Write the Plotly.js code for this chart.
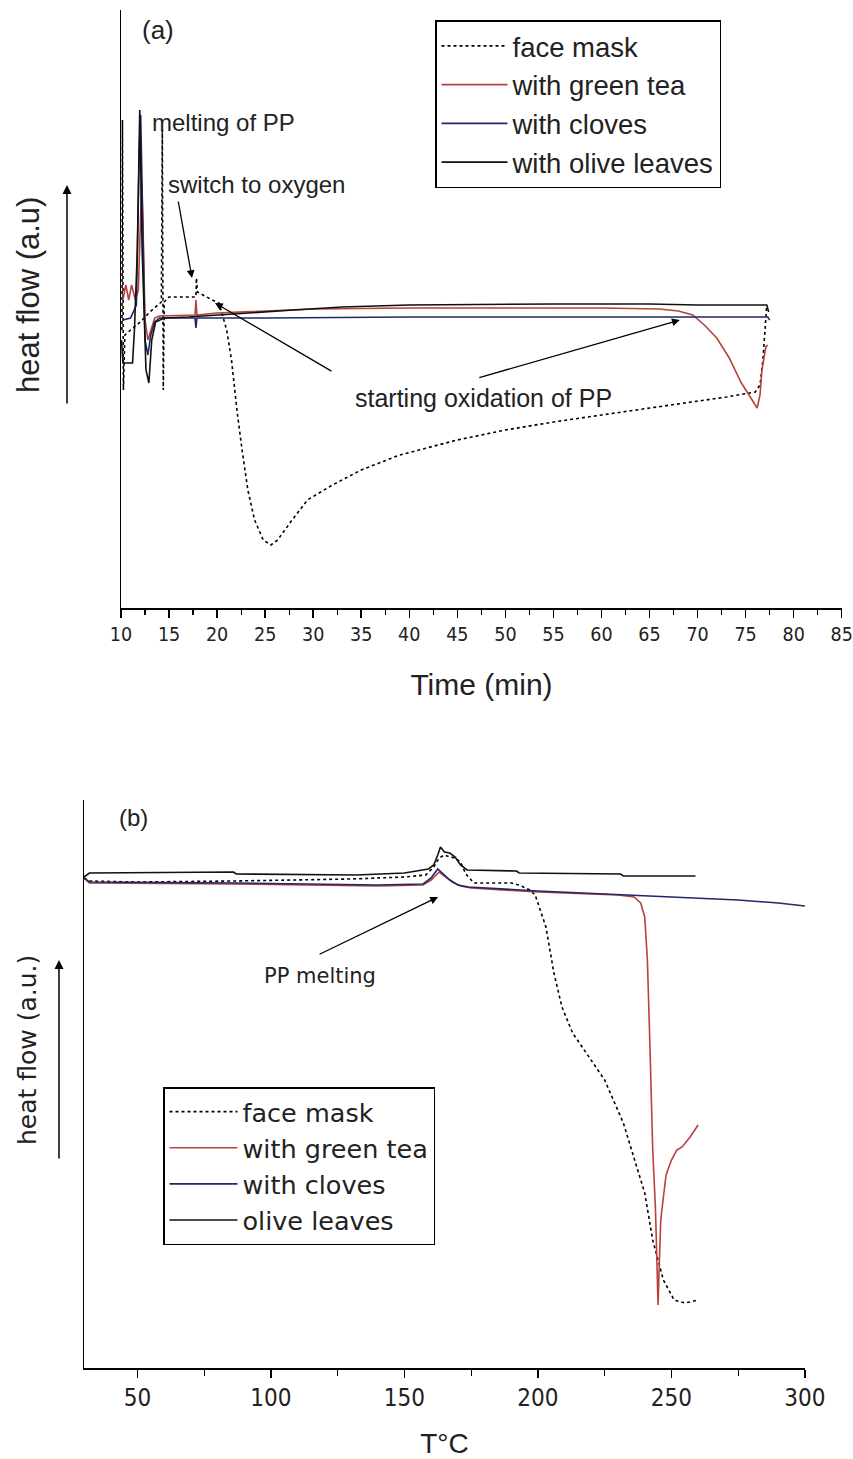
<!DOCTYPE html>
<html>
<head>
<meta charset="utf-8">
<script src="https://cdn.plot.ly/plotly-3.0.1.min.js"></script>
<style>html,body{margin:0;padding:0;background:#fff;}#chart{width:853px;height:1459px;}</style>
</head>
<body>
<div id="chart"></div>
<script>
// ---------- (a) isothermal DSC: heat flow vs time ----------
const seriesNames = ["face mask", "with green tea", "with cloves", "with olive leaves"];
const seriesNamesB = ["face mask", "with green tea", "with cloves", "olive leaves"];

const timeFaceMask = [10.1,10.15,10.25,10.4,11,12,13,14.2,14.3,14.4,14.5,15,17.8,17.85,17.95,18.5,19.5,20.2,21,21.5,22.1,22.6,23.2,23.9,24.8,25.6,26.3,27.8,29.4,32,35,39,45,50,55,60,65,70,73,76,76.5,76.8,77,77.2];
const flowFaceMask = [27.8,48.8,21.8,27.3,27.8,28.6,29.6,30.6,47.8,21.8,30.6,31.1,31.1,33.0,31.6,31.3,30.8,30.5,27.8,24.8,19.5,15.8,11.8,8.8,6.8,6.3,6.8,8.8,10.8,12.3,13.8,15.3,16.8,17.8,18.6,19.3,20.0,20.7,21.1,21.6,22.3,24.8,27.8,30.3];

const timeGreenTea = [10.2,10.5,10.8,11.1,11.5,11.8,12.0,12.15,12.3,12.5,12.8,13.1,13.5,14,17.7,17.8,17.9,20,25,30,40,50,60,66,68,69.5,70.7,72,73.3,74.5,75.6,76.2,76.5,76.7,77.1,77.3];
const flowGreenTea = [30.8,32.3,30.8,32.3,30.8,31.8,37.8,43.0,37.8,28.8,26.8,27.8,29.0,29.2,29.3,30.8,29.3,29.5,29.7,29.9,30.0,30.0,30.0,29.9,29.7,29.3,28.3,27.0,25.0,22.6,21.0,20.0,21.3,23.8,26.1,26.3];

const timeCloves = [10.2,11,11.6,11.9,12.05,12.3,12.5,12.8,13.1,13.5,14,17.7,17.8,17.9,25,40,60,77.3,77.5];
const flowCloves = [28.8,29.0,30.3,45.8,49.3,34.8,26.8,25.3,27.3,28.6,29.0,29.0,28.0,29.0,29.0,29.1,29.1,29.1,28.8];

const timeOlive = [10.05,10.2,11.2,11.4,11.7,11.95,12.2,12.6,12.9,13.2,13.6,14.5,17,20,24,28,33,40,55,65,70,77.2,77.4];
const flowOlive = [26.8,24.5,24.5,27.8,35.8,49.8,35.8,23.8,22.5,26.8,28.6,29.0,29.1,29.3,29.6,29.8,30.1,30.3,30.4,30.4,30.3,30.3,29.6];

const timeTicks = [10,15,20,25,30,35,40,45,50,55,60,65,70,75,80,85];

// ---------- (b) dynamic DSC: heat flow vs temperature ----------
const tempFaceMask = [30,32,50,86,130,150,158,161,163,165,167,169,171,173,176,190,193,197,199,201,203,206,209,213,219,225,232,237,240,243,247,251,255,257,260];
const flowFaceMaskB = [49.0,48.7,48.6,48.7,48.9,49.1,49.3,50.1,51.0,51.3,51.1,51.0,50.6,49.4,48.5,48.5,48.3,47.8,47.3,45.8,44.1,39.5,36.1,33.5,31.1,28.8,24.5,20.1,17.5,12.8,8.8,6.8,6.5,6.6,6.8];

const tempGreenTea = [30,32,86,140,157,160,163,165,168,171,175,200,230,236,238.5,240,241,242,243,244,244.6,245,245.5,246,247,248,250,252,254,257,260];
const flowGreenTeaB = [49.0,48.5,48.4,48.2,48.3,48.8,49.6,49.2,48.6,48.2,48.0,47.6,47.3,47.1,46.5,45.1,40.8,31.8,21.8,16.1,8.8,6.3,10.8,14.8,17.1,19.3,20.8,21.8,22.1,23.1,24.3];

const tempCloves = [30,32,86,140,157,160,162.5,164,167,170,174,200,231,260,275,290,300];
const flowClovesB = [49.0,48.6,48.5,48.3,48.4,49.0,49.9,49.5,48.8,48.3,48.1,47.7,47.3,47.0,46.8,46.5,46.2];

const tempOlive = [30,32,86,87,132,150,159,161,162.5,163.5,165,167,169,171,173.5,192,193,231,232,259];
const flowOliveB = [49.1,49.5,49.6,49.4,49.3,49.5,49.9,50.3,51.3,52.1,51.6,51.5,51.1,50.3,49.8,49.7,49.5,49.4,49.2,49.2];

const tempTicks = [50,100,150,200,250,300];

// ---------- styling ----------
const W = 853, H = 1459;
const px = x => x / W;
const py = y => 1 - y / H;
const ARIAL = 'Liberation Sans, Arial, sans-serif';
const NARROW = '"Liberation Sans Narrow", "Arial Narrow", "DejaVu Sans Condensed", "Liberation Sans", Arial, sans-serif';
const VERD = 'DejaVu Sans, Verdana, sans-serif';
const colFace = '#000000', colTea = '#b8413b', colClove = '#1f2868', colOlive = '#111111';

function tr(x, y, name, color, dash, xa, ya, leg) {
  return {x: x, y: y, name: name, type: 'scatter', mode: 'lines',
    line: {color: color, width: 1.6, dash: dash}, xaxis: xa, yaxis: ya, legend: leg,
    hoverinfo: 'skip'};
}

const data = [
  tr(timeFaceMask, flowFaceMask, seriesNames[0], colFace, 'dot', 'x', 'y', 'legend'),
  tr(timeGreenTea, flowGreenTea, seriesNames[1], colTea, 'solid', 'x', 'y', 'legend'),
  tr(timeCloves, flowCloves, seriesNames[2], colClove, 'solid', 'x', 'y', 'legend'),
  tr(timeOlive, flowOlive, seriesNames[3], colOlive, 'solid', 'x', 'y', 'legend'),
  tr(tempFaceMask, flowFaceMaskB, seriesNamesB[0], colFace, 'dot', 'x2', 'y2', 'legend2'),
  tr(tempGreenTea, flowGreenTeaB, seriesNamesB[1], colTea, 'solid', 'x2', 'y2', 'legend2'),
  tr(tempCloves, flowClovesB, seriesNamesB[2], colClove, 'solid', 'x2', 'y2', 'legend2'),
  tr(tempOlive, flowOliveB, seriesNamesB[3], colOlive, 'solid', 'x2', 'y2', 'legend2')
];

const baseX = {showline: true, linecolor: 'black', linewidth: 1.5, ticks: 'outside', ticklen: 8,
  tickwidth: 1.5, tickcolor: 'black', showgrid: false, zeroline: false, fixedrange: true,
  ticklabeloverflow: 'allow'};
const baseY = {showline: true, linecolor: 'black', linewidth: 1.5, ticks: '', showticklabels: false,
  showgrid: false, zeroline: false, fixedrange: true};

function txt(x, y, text, family, size, anchor, angle) {
  return {xref: 'paper', yref: 'paper', x: px(x), y: py(y), text: text, showarrow: false,
    xanchor: anchor || 'center', yanchor: 'middle', textangle: angle || 0,
    font: {family: family, size: size, color: '#222'}};
}
function arrow(xref, yref, x, y, ax, ay, w) {
  return {xref: xref, yref: yref, x: x, y: y, ax: ax, ay: ay, text: '', showarrow: true,
    arrowhead: 2, arrowsize: 1.2, arrowwidth: w || 1.3, arrowcolor: 'black', standoff: 0};
}

const layout = {
  width: W, height: H, margin: {l: 0, r: 0, t: 0, b: 0},
  paper_bgcolor: 'white', plot_bgcolor: 'white', showlegend: true,
  xaxis: Object.assign({}, baseX, {
    domain: [px(121), px(842)], range: [10, 85.03], anchor: 'y',
    tickmode: 'array', tickvals: timeTicks, ticktext: timeTicks.map(String),
    minor: {ticks: 'outside', ticklen: 5, dtick: 2.5, tick0: 10, tickcolor: 'black', tickwidth: 1.2},
    tickfont: {family: NARROW, size: 19.5, color: '#222'},
    title: {text: 'Time (min)', standoff: 29, font: {family: ARIAL, size: 30, color: '#222'}}
  }),
  yaxis: Object.assign({}, baseY, {domain: [py(608), py(10)], range: [0, 59.8], anchor: 'x'}),
  xaxis2: Object.assign({}, baseX, {
    domain: [px(84), px(805)], range: [30, 300.03], anchor: 'y2',
    tickmode: 'array', tickvals: tempTicks, ticktext: tempTicks.map(String),
    minor: {ticks: 'outside', ticklen: 6, dtick: 25, tick0: 25, tickcolor: 'black', tickwidth: 1.2},
    tickfont: {family: NARROW, size: 24, color: '#222'},
    title: {text: 'T°C', font: {family: ARIAL, size: 28, color: '#222'}}
  }),
  yaxis2: Object.assign({}, baseY, {domain: [py(1368), py(800)], range: [0, 56.8], anchor: 'x2'}),
  legend: {x: px(435), y: py(20), xanchor: 'left', yanchor: 'top', bgcolor: 'white',
    bordercolor: 'black', borderwidth: 1.5, itemwidth: 66, tracegroupgap: 0,
    font: {family: ARIAL, size: 27.5, color: '#222'}},
  legend2: {x: px(163), y: py(1087), xanchor: 'left', yanchor: 'top', bgcolor: 'white',
    bordercolor: 'black', borderwidth: 1.5, itemwidth: 68, tracegroupgap: 0,
    font: {family: VERD, size: 25.5, color: '#222'}},
  annotations: [
    txt(158, 30, '(a)', ARIAL, 26),
    txt(133, 817, '(b)', ARIAL, 24),
    txt(28, 295, 'heat flow (a.u)', ARIAL, 31, 'center', -90),
    txt(27, 1050, 'heat flow (a.u.)', VERD, 25, 'center', -90),
    txt(150, 123, 'melting of PP', ARIAL, 24, 'left'),
    txt(166, 184, 'switch to oxygen', ARIAL, 24, 'left'),
    txt(353, 398, 'starting oxidation of PP', ARIAL, 25, 'left'),
    txt(262, 976, 'PP melting', VERD, 21, 'left'),
    // arrows (head at data point, tail offset in px)
    arrow('x', 'y', 17.39, 33.0, -14, -78),
    arrow('x', 'y', 19.78, 30.5, 118, 69),
    arrow('x', 'y', 68.15, 28.8, -202, 58),
    arrow('x2', 'y2', 162.6, 47.1, -120, 58),
    // heat-flow direction arrows beside the y axes
    arrow('paper', 'paper', px(67), py(185), 0, 220, 1.5),
    arrow('paper', 'paper', px(59), py(960), 0, 200, 1.5)
  ]
};

Plotly.newPlot('chart', data, layout, {displayModeBar: false, staticPlot: true});
</script>
</body>
</html>
